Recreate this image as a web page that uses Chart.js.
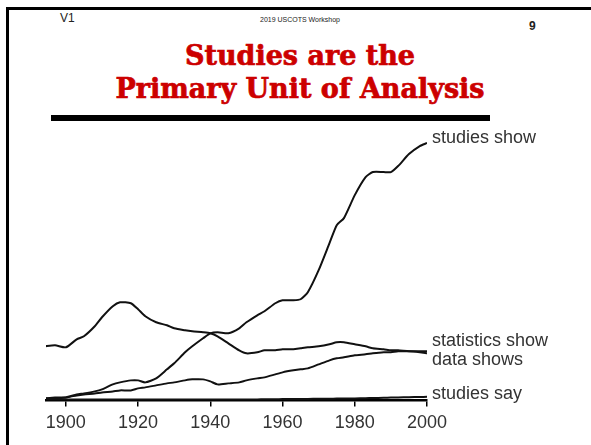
<!DOCTYPE html>
<html lang="en">
<head>
  <meta charset="utf-8">
  <title>Studies are the Primary Unit of Analysis</title>
  <script src="https://cdn.jsdelivr.net/npm/chart.js@4.4.1/dist/chart.umd.min.js"></script>
  <style>
    html, body { margin: 0; padding: 0; background: #fff; }
    #slide { position: relative; width: 591px; height: 445px; overflow: hidden; font-family: "Liberation Sans", Arial, sans-serif; }
    #frame { position: absolute; left: 6px; top: 7px; width: 600px; height: 460px; border-left: 3px solid #000; border-top: 3px solid #000; }
    .hdr { position: absolute; color: #222; white-space: nowrap; }
    #v1 { left: 60px; top: 11px; font-size: 12px; }
    #work { left: 0; width: 600px; text-align: center; top: 16px; font-size: 7px; }
    #page { left: 529px; top: 19px; font-size: 12px; font-weight: bold; }
    .title { position: absolute; left: 0; width: 600px; text-align: center; color: #cc0000;
             font-family: "DejaVu Serif", serif; font-weight: bold; font-size: 27px; white-space: nowrap;
             -webkit-text-stroke: 0.7px #cc0000; }
    #t1 { top: 40px; }
    #t2 { top: 73px; }
    #rule { position: absolute; left: 51px; top: 115px; width: 439px; height: 6px; background: #000; }
    #graph { position: absolute; left: 0; top: 0; }
  </style>
</head>
<body>
  <div id="slide">
    <div id="frame"></div>
    <div class="hdr" id="v1">V1</div>
    <div class="hdr" id="work">2019 USCOTS Workshop</div>
    <div class="hdr" id="page">9</div>
    <div class="title" id="t1">Studies are the</div>
    <div class="title" id="t2">Primary Unit of Analysis</div>
    <div id="rule"></div>
    <canvas id="graph" width="591" height="445"></canvas>
  </div>

  <script>
    // years sampled along the curves
    var years = [1894, 1897, 1900, 1903, 1905, 1908, 1910, 1913, 1915, 1918, 1920, 1922, 1925, 1928,
                 1930, 1933, 1935, 1938, 1940, 1942, 1945, 1948, 1950, 1953, 1955, 1958, 1960, 1963,
                 1965, 1967, 1970, 1973, 1975, 1977, 1980, 1983, 1985, 1988, 1990, 1992, 1995, 1998, 2000];

    // relative frequency index
    var studiesShow = [2, 2, 3, 6, 7, 9, 11, 16, 18, 20, 20, 18, 22, 31,
                       37, 48, 54, 62, 67, 68, 67, 72, 78, 85, 89, 97, 100, 100,
                       101, 108, 130, 157, 175, 182, 205, 223, 228, 228, 228, 234, 246, 254, 257];
    var statisticsShow = [54, 55, 53, 61, 64, 74, 83, 94, 98, 97, 91, 84, 78, 75,
                          72, 70, 69, 68, 67, 64, 57, 50, 47, 48, 50, 50, 51, 51,
                          52, 53, 54, 56, 58, 58, 56, 54, 52, 51, 50, 50, 49, 49, 49];
    var dataShows = [2, 3, 3, 5, 6, 7, 8, 9, 10, 10, 12, 13, 15, 17,
                     18, 20, 21, 21, 19, 16, 17, 18, 20, 22, 23, 26, 28, 30,
                     31, 32, 36, 40, 42, 43, 45, 46, 47, 48, 48, 49, 49, 48, 47];
    var studiesSay = [1, 1, 1, 1, 1, 1, 1, 1, 1, 1, 1, 1, 1, 1,
                      1, 1, 1, 1, 1, 1, 1, 1, 1, 1, 1.2, 1.2, 1.3, 1.4,
                      1.5, 1.5, 1.6, 1.7, 1.8, 1.9, 2, 2.2, 2.4, 2.6, 2.8, 3, 3.2, 3.4, 3.6];

    var seriesNames = ["studies show", "statistics show", "data shows", "studies say"];
    var seriesValues = [studiesShow, statisticsShow, dataShows, studiesSay];
    var tickYears = [1900, 1920, 1940, 1960, 1980, 2000];

    // label nudges so the names sit like in the original
    var labelNudge = [-5, -10, 7, -3];

    const endLabels = {
      id: 'endLabels',
      afterDatasetsDraw(chart) {
        const ctx = chart.ctx;
        ctx.save();
        ctx.font = '18px "Liberation Sans", Arial, sans-serif';
        ctx.fillStyle = '#333';
        ctx.textBaseline = 'middle';
        ctx.textAlign = 'left';
        chart.data.datasets.forEach((ds, i) => {
          const pts = chart.getDatasetMeta(i).data;
          const last = pts[pts.length - 1];
          ctx.fillText(ds.label, chart.chartArea.right + 5, last.y + labelNudge[i]);
        });
        ctx.restore();
      }
    };

    var datasets = seriesNames.map((name, i) => ({
      label: name,
      data: years.map((yr, j) => ({ x: yr, y: seriesValues[i][j] })),
      borderColor: '#111',
      borderWidth: 2,
      pointRadius: 0,
      tension: 0.2,
      fill: false
    }));

    new Chart(document.getElementById('graph'), {
      type: 'line',
      data: { datasets: datasets },
      options: {
        responsive: false,
        animation: false,
        layout: { padding: { left: 46, right: 164, top: 130, bottom: 5 } },
        plugins: { legend: { display: false }, tooltip: { enabled: false } },
        scales: {
          x: {
            type: 'linear',
            min: 1894.5,
            max: 2000,
            afterBuildTicks: axis => { axis.ticks = tickYears.map(v => ({ value: v })); },
            grid: { drawOnChartArea: false, drawTicks: true, tickLength: 6, color: '#000', lineWidth: 1.5 },
            border: { display: true, color: '#000', width: 2.5 },
            ticks: {
              color: '#333',
              padding: 6,
              maxRotation: 0,
              font: { family: '"Liberation Sans", Arial, sans-serif', size: 18 },
              callback: v => String(v)
            }
          },
          y: {
            display: false,
            min: 0,
            max: 270
          }
        }
      },
      plugins: [endLabels]
    });
  </script>
</body>
</html>
